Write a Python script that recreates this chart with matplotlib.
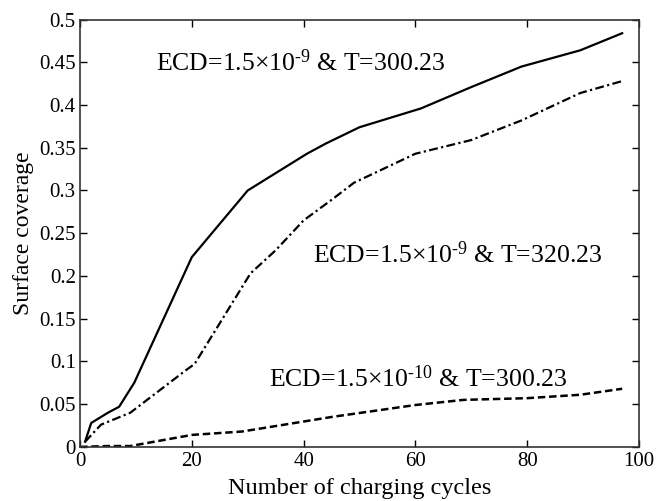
import matplotlib
matplotlib.use("Agg")
import matplotlib.pyplot as plt

plt.rcParams['font.family'] = ['Liberation Serif', 'DejaVu Serif']
plt.rcParams['mathtext.fontset'] = 'custom'
plt.rcParams['mathtext.rm'] = 'Liberation Serif'
plt.rcParams['mathtext.it'] = 'Liberation Serif:italic'

# ECD=1.5e-9, T=300.23
x_a = [0.9, 2, 5, 7, 9.7, 20, 30, 40.6, 44, 50, 61, 70, 79, 89.5, 97]
y_a = [0.006, 0.028, 0.040, 0.047, 0.075, 0.222, 0.300, 0.343, 0.355, 0.374, 0.396, 0.421, 0.445, 0.464, 0.484]

# ECD=1.5e-9, T=320.23
x_b = [0.9, 3.75, 9, 19, 20.5, 30.5, 35, 40, 45, 49, 60, 70, 79, 89.5, 97]
y_b = [0.006, 0.026, 0.040, 0.090, 0.097, 0.203, 0.230, 0.265, 0.289, 0.309, 0.343, 0.359, 0.382, 0.414, 0.428]

# ECD=1.5e-10, T=300.23
x_c = [0, 5, 9, 20, 29, 45, 60, 68.6, 80, 89.5, 97]
y_c = [0.0, 0.001, 0.001, 0.014, 0.018, 0.035, 0.049, 0.055, 0.057, 0.061, 0.068]

labels = [r'ECD=1.5$\times$10$^{\text{-9}}$ & T=300.23',
          r'ECD=1.5$\times$10$^{\text{-9}}$ & T=320.23',
          r'ECD=1.5$\times$10$^{\text{-10}}$ & T=300.23']
label_pos = [(13.6, 0.45), (41.6, 0.225), (33.8, 0.080)]

fig = plt.figure(figsize=(6.56, 5.01), dpi=100)
ax = fig.add_axes([0.122, 0.108, 0.852, 0.853])

ax.plot(x_a, y_a, color='black', linewidth=1.6, linestyle='-')
ax.plot(x_b, y_b, color='black', linewidth=1.6, linestyle=(0, (4, 1.5, 1, 1.5)))
ax.plot(x_c, y_c, color='black', linewidth=1.8, linestyle=(0, (3, 1.5)))

for txt, (tx, ty) in zip(labels, label_pos):
    ax.text(tx, ty, txt, fontsize=18.5, va='center', ha='left')

ax.set_xlim(0, 100)
ax.set_ylim(0, 0.5)
ax.set_xticks([0, 20, 40, 60, 80, 100])
ax.set_yticks([0, 0.05, 0.1, 0.15, 0.2, 0.25, 0.3, 0.35, 0.4, 0.45, 0.5])
ax.set_yticklabels(['0', '0.05', '0.1', '0.15', '0.2', '0.25', '0.3', '0.35', '0.4', '0.45', '0.5'])
ax.tick_params(direction='in', top=True, right=True, length=5, width=1, labelsize=15)
ax.tick_params(axis='x', pad=4)
ax.tick_params(axis='y', pad=3)
for s in ax.spines.values():
    s.set_linewidth(1.2)
    s.set_color('#333333')

ax.set_xlabel('Number of charging cycles', fontsize=17.5, labelpad=5)
ax.set_ylabel('Surface coverage', fontsize=17, labelpad=4)

fig.savefig('out.png', dpi=100)
